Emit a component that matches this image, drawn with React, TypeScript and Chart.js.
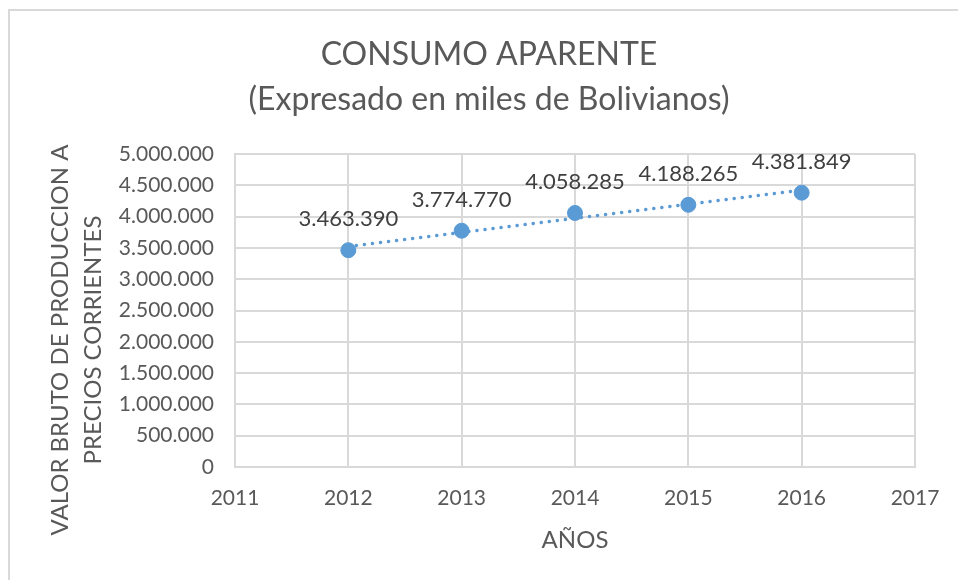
import React, { useEffect, useRef } from "react";
import { Chart, registerables } from "chart.js";

Chart.register(...registerables);

const years = [2012, 2013, 2014, 2015, 2016];
const consumo = [3463390, 3774770, 4058285, 4188265, 4381849];
const trendYears = [2012, 2016];
const trendValues = [3523000, 4423000];
const titleLines = ["CONSUMO APARENTE", "(Expresado en miles de Bolivianos)"];
const yTitleLines = ["VALOR BRUTO DE PRODUCCION A", "PRECIOS CORRIENTES"];
const xTitle = "AÑOS";
const xMin = 2011;
const xMax = 2017;
const yMin = 0;
const yMax = 5000000;
const yStep = 500000;

const FONT = "Lato, 'Open Sans', sans-serif";
const TEXT = "#595959";
const BLUE = "#5B9BD5";
const GRID = "#d9d9d9";

const fmt = (v: number) => Math.round(v).toLocaleString("de-DE");

const framePlugin = {
  id: "frame",
  beforeDraw(chart: any) {
    const ctx = chart.ctx;
    ctx.save();
    ctx.fillStyle = "#ffffff";
    ctx.fillRect(0, 0, chart.width, chart.height);
    ctx.strokeStyle = GRID;
    ctx.lineWidth = 2;
    ctx.beginPath();
    ctx.moveTo(9, chart.height);
    ctx.lineTo(9, 10);
    ctx.lineTo(chart.width, 10);
    ctx.stroke();
    ctx.restore();
  },
};

const yTitlePlugin = {
  id: "yTitle",
  afterDraw(chart: any) {
    const ctx = chart.ctx;
    ctx.save();
    ctx.fillStyle = TEXT;
    ctx.font = `24px ${FONT}`;
    ctx.textAlign = "center";
    ctx.textBaseline = "middle";
    const xs = [60, 93];
    yTitleLines.forEach((line, i) => {
      ctx.save();
      ctx.translate(xs[i], 340);
      ctx.rotate(-Math.PI / 2);
      ctx.fillText(line, 0, 0);
      ctx.restore();
    });
    ctx.restore();
  },
};

const labelPlugin = {
  id: "pointLabels",
  afterDatasetsDraw(chart: any) {
    const meta = chart.getDatasetMeta(1);
    const ctx = chart.ctx;
    ctx.save();
    ctx.fillStyle = "#404040";
    ctx.font = `22px ${FONT}`;
    ctx.textAlign = "center";
    ctx.textBaseline = "middle";
    meta.data.forEach((pt: any, i: number) => {
      ctx.fillText(fmt(consumo[i]), pt.x, pt.y - 31);
    });
    ctx.restore();
  },
};

export default function App() {
  const ref = useRef<HTMLCanvasElement | null>(null);
  useEffect(() => {
    document.body.style.margin = "0";
    if (!ref.current) return;
    const chart = new Chart(ref.current, {
      type: "scatter",
      data: {
        datasets: [
          {
            type: "line",
            label: "Tendencia",
            data: trendYears.map((x, i) => ({ x, y: trendValues[i] })),
            borderColor: BLUE,
            borderWidth: 3.5,
            borderDash: [0.1, 8],
            borderCapStyle: "round",
            pointRadius: 0,
            fill: false,
            order: 2,
          } as any,
          {
            label: "Consumo aparente",
            data: years.map((x, i) => ({ x, y: consumo[i] })),
            backgroundColor: BLUE,
            borderColor: BLUE,
            pointRadius: 7.5,
            pointHoverRadius: 7.5,
            order: 1,
          },
        ],
      },
      options: {
        responsive: false,
        animation: false,
        devicePixelRatio: 1,
        layout: { padding: { left: 63, right: 43, top: 0, bottom: 0 } },
        plugins: {
          legend: { display: false },
          tooltip: { enabled: false },
          title: {
            display: true,
            text: titleLines,
            color: TEXT,
            font: { family: FONT, size: 32, weight: "normal", lineHeight: 45 / 32 },
            padding: { top: 32.5, bottom: 31.5 },
          },
        },
        scales: {
          x: {
            type: "linear",
            min: xMin,
            max: xMax,
            afterFit(scale: any) {
              scale.height = 113;
            },
            ticks: {
              stepSize: 1,
              color: TEXT,
              font: { family: FONT, size: 21 },
              padding: 18.5,
              callback: (v: any) => String(v),
            },
            grid: { color: GRID, lineWidth: 2, drawTicks: false },
            border: { color: GRID, width: 2 },
            title: {
              display: true,
              text: xTitle,
              color: TEXT,
              font: { family: FONT, size: 24 },
              padding: { top: 0, bottom: 25.6 },
            },
          },
          y: {
            min: yMin,
            max: yMax,
            afterFit(scale: any) {
              scale.width = 172;
            },
            ticks: {
              stepSize: yStep,
              color: TEXT,
              font: { family: FONT, size: 21 },
              padding: 21,
              callback: (v: any) => fmt(Number(v)),
            },
            grid: { color: GRID, lineWidth: 2, drawTicks: false },
            border: { color: GRID, width: 2 },
          },
        },
      },
      plugins: [framePlugin, yTitlePlugin, labelPlugin],
    });
    return () => chart.destroy();
  }, []);
  return (
    <div style={{ position: "relative", width: 958, height: 580, overflow: "hidden" }}>
      <canvas ref={ref} width={958} height={580} style={{ display: "block" }} />
    </div>
  );
}
